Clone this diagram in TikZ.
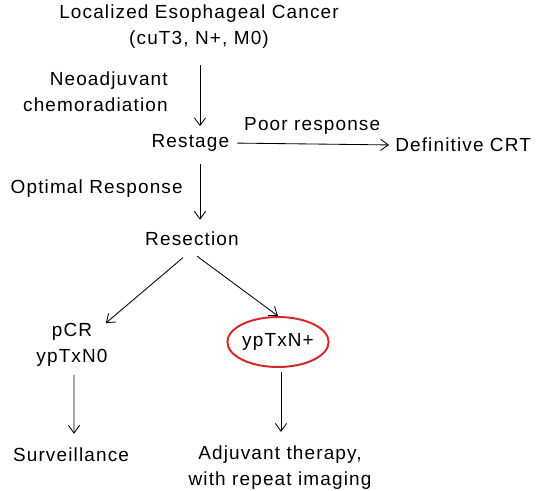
\documentclass[tikz,border=0pt]{standalone}
\usepackage{fontspec}
\setmainfont[LetterSpace=6]{Liberation Sans}
\usepackage{tikz}
\usetikzlibrary{shapes,arrows.meta,positioning,calc}
\definecolor{ovalRed}{RGB}{212,40,42}

\begin{document}
\begin{tikzpicture}[
    every node/.style={font=\fontsize{13.5}{18.5}\selectfont, align=center, inner sep=0pt},
    arr/.style={-{Straight Barb[length=5.5pt,width=8pt]}, line width=0.6pt},
    oval/.style={draw=ovalRed, line width=1.4pt, ellipse, minimum width=2.5cm, minimum height=1.25cm}
  ]
    \useasboundingbox (0,0) rectangle (13.45,-12.275);
    \node (cancer) at (4.975,-0.675) {Localized Esophageal Cancer\\(cuT3, N+, M0)};
    \node[anchor=east, align=right] (neo) at (4.2,-2.3) {Neoadjuvant\\chemoradiation};
    \node (restage) at (4.76,-3.575) {Restage};
    \node[anchor=west] (crt) at (9.875,-3.625) {Definitive CRT};
    \node[anchor=east] (optimal) at (4.575,-4.725) {Optimal Response};
    \node (resection) at (4.8,-5.975) {Resection};
    \node (pcr) at (1.8,-8.625) {pCR\\ypTxN0};
    \node[oval] (ypn) at (6.95,-8.55) {ypTxN+};
    \node (surv) at (1.775,-11.375) {Surveillance};
    \node (adj) at (7.0,-11.7) {Adjuvant therapy,\\with repeat imaging};
    % Arrows
    \draw[arr, shorten <=0.4cm, shorten >=0.2cm] ([xshift=0.025cm]cancer.south) -- ([xshift=0.24cm]restage.north);
    \draw[arr, shorten <=0.2cm, shorten >=0.15cm] (restage.east) -- node[above=0.22cm] {Poor response} (crt.west);
    \draw[arr, shorten <=0.3cm, shorten >=0.3cm] ([xshift=0.24cm]restage.south) -- ([xshift=0.2cm]resection.north);
    \draw[arr, shorten <=0.44cm, shorten >=0cm] ([xshift=0.11cm]resection.south) -- ([xshift=-0.05cm]pcr.north east);
    \draw[arr, shorten <=0.42cm, shorten >=0cm] ([xshift=-0.21cm]resection.south) -- (ypn.north);
    \draw[arr, shorten <=0.2cm, shorten >=0.35cm] ([xshift=0.05cm]pcr.south) -- ([xshift=0.075cm]surv.north);
    \draw[arr, shorten <=0.1cm, shorten >=0.35cm] ([xshift=0.075cm]ypn.south) -- ([xshift=0.025cm]adj.north);
  \end{tikzpicture}
\end{document}
